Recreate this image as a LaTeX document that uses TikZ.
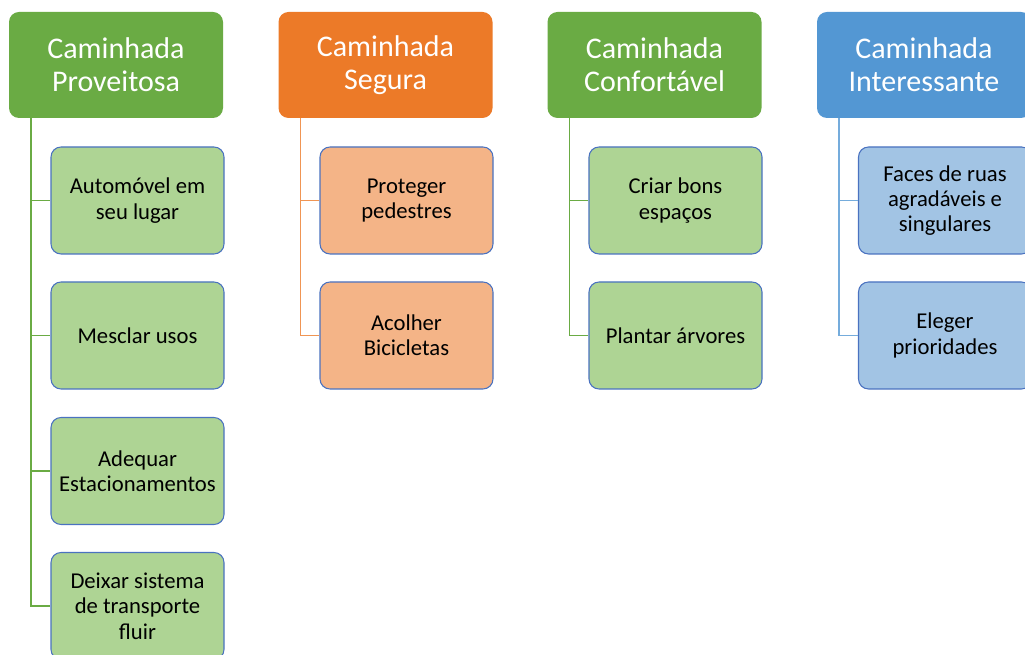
\documentclass[tikz,border=0pt]{standalone}
\usepackage{fontspec}
\setmainfont{Carlito}
\definecolor{hgreen}{HTML}{6AAB44}
\definecolor{horange}{HTML}{EC7A28}
\definecolor{hblue}{HTML}{5397D3}
\definecolor{lgreen}{HTML}{AED494}
\definecolor{lorange}{HTML}{F4B487}
\definecolor{lblue}{HTML}{A2C4E4}
\definecolor{cborder}{HTML}{4A72C0}
\begin{document}
\begin{tikzpicture}[x=0.75pt,y=-0.75pt,
  head/.style={rounded corners=7.5pt, minimum width=160.5pt, minimum height=79.5pt, text=white, align=center, font=\fontsize{22.5}{24.5}\selectfont, inner sep=0pt},
  child/.style={rounded corners=7.5pt, draw=cborder, line width=0.8pt, minimum width=129.75pt, minimum height=80.25pt, text=black, align=center, font=\fontsize{17}{19}\selectfont, inner sep=0pt},
  conn/.style={line width=0.9pt}]
\useasboundingbox (0,0) rectangle (1025,655);
\clip (0,0) rectangle (1025,655);
\fill[white] (0,0) rectangle (1025,655);
% headers
\node[head, fill=hgreen] (h1) at (116,65) {Caminhada\\Proveitosa};
\node[head, fill=horange] (h2) at (385.5,65) {Caminhada\\Segura};
\node[head, fill=hgreen] (h3) at (654.5,65) {Caminhada\\Confortável};
\node[head, fill=hblue] (h4) at (924,65) {Caminhada\\Interessante};
% children col 1
\node[child, fill=lgreen] (a1) at (137.5,200.5) {Automóvel em\\seu lugar};
\node[child, fill=lgreen] (a2) at (137.5,335.5) {Mesclar usos};
\node[child, fill=lgreen] (a3) at (137.5,471) {Adequar\\Estacionamentos};
\node[child, fill=lgreen] (a4) at (137.5,606) {Deixar sistema\\de transporte\\fluir};
% col 2
\node[child, fill=lorange] (b1) at (406.5,200.5) {Proteger\\pedestres};
\node[child, fill=lorange] (b2) at (406.5,335.5) {Acolher\\Bicicletas};
% col 3
\node[child, fill=lgreen] (c1) at (675.5,200.5) {Criar bons\\espaços};
\node[child, fill=lgreen] (c2) at (675.5,335.5) {Plantar árvores};
% col 4
\node[child, fill=lblue] (d1) at (945,200.5) {Faces de ruas\\agradáveis e\\singulares};
\node[child, fill=lblue] (d2) at (945,335.5) {Eleger\\prioridades};
% connectors
\coordinate (t1) at ([xshift=-63.75pt]h1.south);
\coordinate (t2) at ([xshift=-63.75pt]h2.south);
\coordinate (t3) at ([xshift=-63.75pt]h3.south);
\coordinate (t4) at ([xshift=-63.75pt]h4.south);
\foreach \c in {a1,a2,a3,a4} \draw[conn, hgreen] (t1) |- (\c.west);
\foreach \c in {b1,b2} \draw[conn, horange!80] (t2) |- (\c.west);
\foreach \c in {c1,c2} \draw[conn, hgreen] (t3) |- (\c.west);
\foreach \c in {d1,d2} \draw[conn, hblue!80] (t4) |- (\c.west);
\end{tikzpicture}
\end{document}
